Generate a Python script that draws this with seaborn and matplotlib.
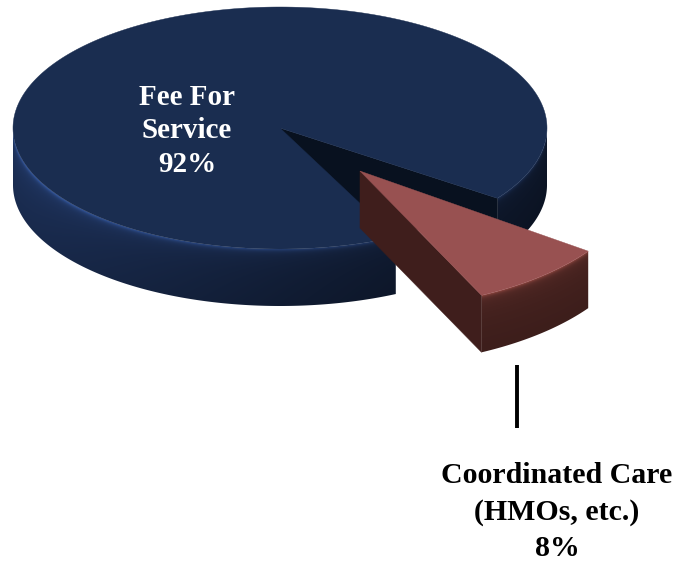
import numpy as np
import matplotlib
matplotlib.use("Agg")
import matplotlib.pyplot as plt
import seaborn as sns
from matplotlib.patches import Polygon
from matplotlib.colors import to_rgb

# ---- data ----
categories = ["Fee For\nService", "Coordinated Care\n(HMOs, etc.)"]
shares = [92, 8]

# ---- style ----
sns.set_theme(style="white")
plt.rcParams["font.family"] = ["Liberation Serif", "DejaVu Serif"]

top_cols = ["#1a2d50", "#985151"]
side_cols = ["#1d3159", "#45221f"]
cut_cols = ["#08111f", "#3f1e1c"]
ang_shading = [1.0, 0.0]

W, HH = 681, 566
fig = plt.figure(figsize=(W / 100, HH / 100), dpi=100)
ax = fig.add_axes([0, 0, 1, 1])

# layout of the 3-D pie (screen units, y downward)
CX, CY, A, B, H = 280, 128, 267, 121, 57
START = 35.5           # where the small slice starts (deg, clockwise)
EXPLODE = 0.465
NEAR = (1.05, 1.14)    # perspective enlargement of the exploded slice

span = np.array(shares, float) / sum(shares) * 360.0
small0, small1 = START, START + span[1]
big0, big1 = small1, small1 + span[0]

mid = np.radians((small0 + small1) / 2)
pieces = [
    dict(cx=CX, cy=CY, a=A, b=B, t0=big0, t1=big1, i=0),
    dict(cx=CX + EXPLODE * A * np.cos(mid), cy=CY + EXPLODE * B * np.sin(mid),
         a=A * NEAR[0], b=B * NEAR[1], t0=small0, t1=small1, i=1),
]

RES = 2
gx, gy = np.meshgrid((np.arange(W * RES) + 0.5) / RES,
                     (np.arange(HH * RES) + 0.5) / RES)


def pt(p, t, z=0.0):
    r = np.radians(t)
    return (p["cx"] + p["a"] * np.cos(r), p["cy"] + p["b"] * np.sin(r) + z)


def side_image(p):
    u = np.clip((gx - p["cx"]) / p["a"], -1, 1)
    t = np.arccos(u)
    ytop = p["cy"] + p["b"] * np.sin(t)
    zf = np.clip((gy - ytop) / H, 0, 1)
    s = ang_shading[p["i"]]
    ft = (1 - s) + s * (0.45 + 0.55 * ((1 - np.cos(t)) / 2) ** 1.5)
    fz = 1 + 0.9 * np.exp(-zf * 30) + 0.25 * np.exp(-zf * 6) - 0.12 * zf
    f = ft * fz
    img = np.clip(np.array(to_rgb(side_cols[p["i"]]))[None, None, :] * f[..., None], 0, 1)
    return img


def draw_side(p):
    img = None
    for base in (0, 360):
        lo, hi = max(p["t0"], base), min(p["t1"], base + 180)
        if hi <= lo:
            continue
        if img is None:
            img = side_image(p)
        ts = np.linspace(lo, hi, 200)
        poly = [pt(p, t) for t in ts] + [pt(p, t, H) for t in ts[::-1]]
        edge = Polygon(poly, closed=True, facecolor="none", edgecolor="none")
        ax.add_patch(edge)
        im = ax.imshow(img, extent=(0, W, HH, 0), origin="upper",
                       interpolation="bilinear", aspect="auto")
        im.set_clip_path(edge)


def draw_cut(p, t):
    c = (p["cx"], p["cy"])
    poly = [c, pt(p, t), pt(p, t, H), (c[0], c[1] + H)]
    ax.add_patch(Polygon(poly, closed=True, facecolor=cut_cols[p["i"]],
                         edgecolor=cut_cols[p["i"]], lw=0.3))


def draw_top(p):
    ts = np.linspace(p["t0"], p["t1"], 300)
    poly = [(p["cx"], p["cy"])] + [pt(p, t) for t in ts]
    ax.add_patch(Polygon(poly, closed=True, facecolor=top_cols[p["i"]],
                         edgecolor=top_cols[p["i"]], lw=0.3))


big, small = pieces
draw_side(big)
draw_cut(big, big["t1"])
draw_top(big)
draw_side(small)
draw_cut(small, small["t1"])
draw_top(small)

# labels
ax.text(187, 131, f"{categories[0]}\n{shares[0]}%", color="white",
        fontsize=21, fontweight="bold", ha="center", va="center",
        multialignment="center", linespacing=1.3)
ax.text(557, 512, f"{categories[1]}\n{shares[1]}%", color="black",
        fontsize=21.5, fontweight="bold", ha="center", va="center",
        multialignment="center", linespacing=1.45)
ax.plot([517, 517], [365, 428], color="black", lw=2.8, solid_capstyle="butt")

ax.set_xlim(0, W)
ax.set_ylim(HH, 0)
ax.axis("off")

fig.savefig("out.png", dpi=100)
